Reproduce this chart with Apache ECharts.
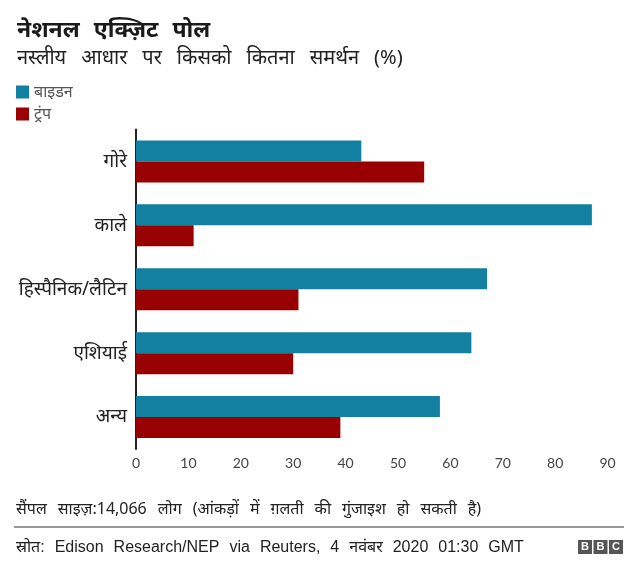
<!DOCTYPE html>
<html>
<head>
<meta charset="utf-8">
<script src="https://cdn.jsdelivr.net/npm/echarts@6/dist/echarts.min.js"></script>
<style>
html,body{margin:0;padding:0;background:#fff;}
#chart{width:640px;height:576px;}
</style>
</head>
<body>
<div id="chart"></div>
<script>
const titleText = 'नेशनल एक्ज़िट पोल';
const subtitleText = 'नस्लीय आधार पर किसको कितना समर्थन (%)';
const noteText = 'सैंपल साइज़:14,066 लोग (आंकड़ों में ग़लती की गुंजाइश हो सकती है)';
const sourceText = 'स्रोत: Edison Research/NEP via Reuters, 4 नवंबर 2020 01:30 GMT';
const categories = ['गोरे', 'काले', 'हिस्पैनिक/लैटिन', 'एशियाई', 'अन्य'];
const seriesNames = ['बाइडन', 'ट्रंप'];
const bidenValues = [43, 87, 67, 64, 58];
const trumpValues = [55, 11, 31, 30, 39];
const xTicks = [0, 10, 20, 30, 40, 50, 60, 70, 80, 90];

const FONT = '"Noto Sans", sans-serif';
// widen word gaps (the reference font has very wide spaces)
function wide(s) { return s.split(' ').join('{sp| }'); }

const chart = echarts.init(document.getElementById('chart'), null, {renderer: 'canvas'});
chart.setOption({
  animation: false,
  backgroundColor: '#fff',
  title: {
    text: wide(titleText),
    subtext: wide(subtitleText),
    left: 12, top: 14, itemGap: 6,
    textStyle: {fontFamily: FONT, fontSize: 23, fontWeight: 'bold', color: '#1a1a1a',
      rich: {sp: {width: 14}}},
    subtextStyle: {fontFamily: FONT, fontSize: 20, color: '#222',
      rich: {sp: {width: 15}}}
  },
  legend: {
    orient: 'vertical', left: 16, top: 84, padding: 0,
    icon: 'rect', itemWidth: 13, itemHeight: 13, itemGap: 6,
    textStyle: {fontFamily: FONT, fontSize: 16, color: '#555'},
    data: seriesNames
  },
  grid: {left: 136, right: 32.4, top: 129.5, bottom: 127, containLabel: false},
  xAxis: {
    type: 'value', min: xTicks[0], max: xTicks[xTicks.length - 1], interval: 10,
    axisLine: {show: false}, axisTick: {show: false}, splitLine: {show: false},
    axisLabel: {margin: 7, fontFamily: 'Lato, sans-serif', fontSize: 14, color: '#444'}
  },
  yAxis: {
    type: 'category', data: categories, inverse: true,
    axisLine: {show: true, lineStyle: {color: '#222', width: 2}},
    axisTick: {show: false},
    axisLabel: {margin: 9, fontFamily: FONT, fontSize: 19, color: '#222'}
  },
  series: [
    {name: seriesNames[0], type: 'bar', data: bidenValues, barWidth: 21, barGap: '0%',
     itemStyle: {color: '#1380A1'}},
    {name: seriesNames[1], type: 'bar', data: trumpValues, barWidth: 21, barGap: '0%',
     itemStyle: {color: '#990000'}}
  ],
  graphic: [
    {type: 'text', left: 16, top: 501,
     style: {text: wide(noteText), font: '16px ' + FONT, fill: '#222', rich: {sp: {width: 11}}}},
    {type: 'line', shape: {x1: 14, y1: 527, x2: 624, y2: 527}, style: {stroke: '#333', lineWidth: 1}},
    {type: 'text', left: 16, top: 540,
     style: {text: wide(sourceText), font: '16px "Liberation Sans", "Noto Sans", sans-serif', fill: '#222', rich: {sp: {width: 10}}}},
    {type: 'group', left: 578, top: 540, children: [
      {type: 'rect', shape: {x: 0, y: 0, width: 14, height: 14}, style: {fill: '#555'}},
      {type: 'rect', shape: {x: 15.5, y: 0, width: 14, height: 14}, style: {fill: '#555'}},
      {type: 'rect', shape: {x: 31, y: 0, width: 14, height: 14}, style: {fill: '#555'}},
      {type: 'text', x: 7, y: 7, style: {text: 'B', font: 'bold 11px Arial, sans-serif', fill: '#fff', align: 'center', verticalAlign: 'middle'}},
      {type: 'text', x: 22.5, y: 7, style: {text: 'B', font: 'bold 11px Arial, sans-serif', fill: '#fff', align: 'center', verticalAlign: 'middle'}},
      {type: 'text', x: 38, y: 7, style: {text: 'C', font: 'bold 11px Arial, sans-serif', fill: '#fff', align: 'center', verticalAlign: 'middle'}}
    ]}
  ]
});
</script>
</body>
</html>
